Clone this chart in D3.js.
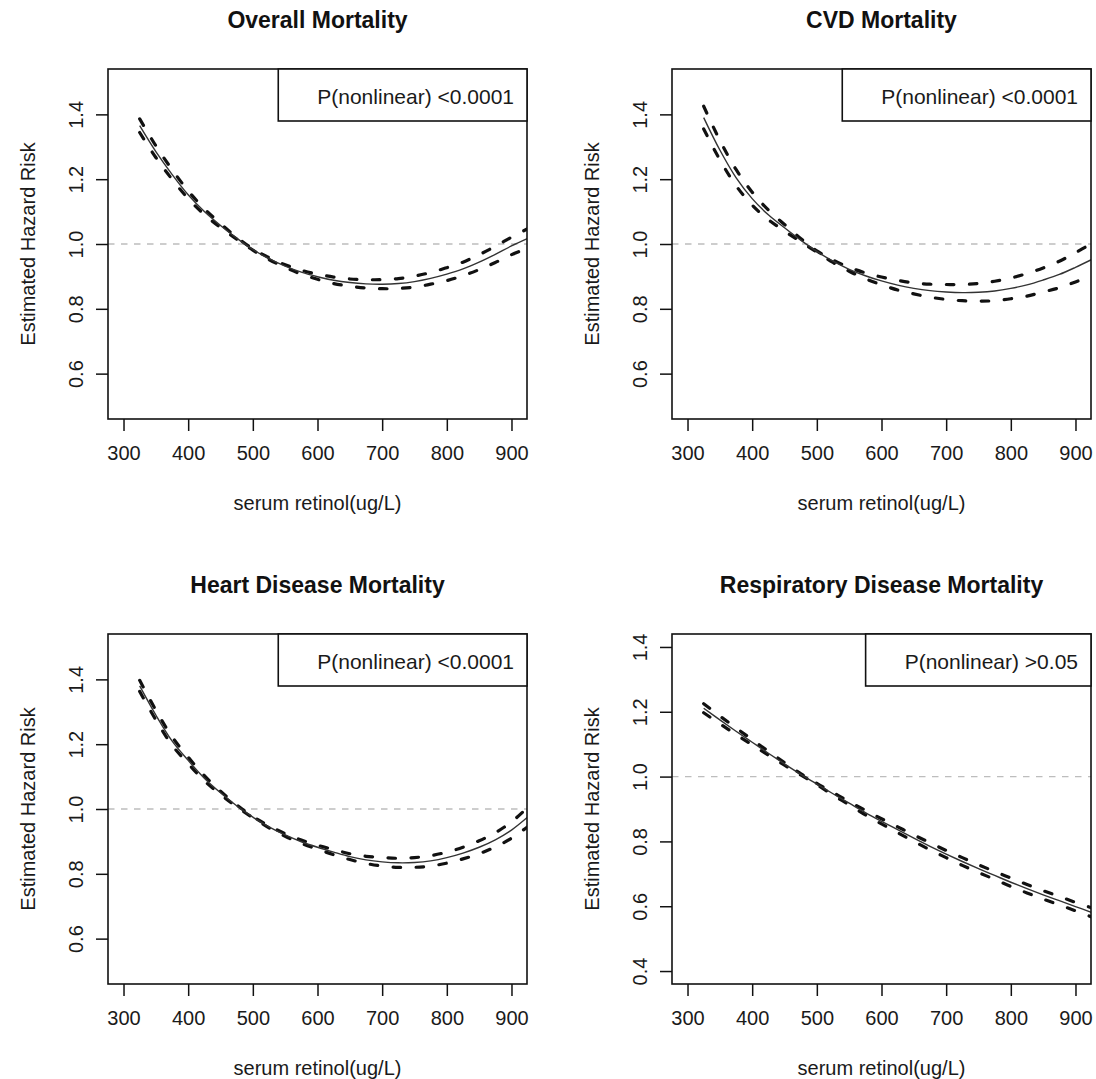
<!DOCTYPE html>
<html>
<head>
<meta charset="utf-8">
<script src="https://cdn.jsdelivr.net/npm/d3@7"></script>
<style>
  html, body { margin: 0; padding: 0; background: #fff; }
  svg { display: block; font-family: "Liberation Sans", Arial, Helvetica, sans-serif; }
</style>
</head>
<body>
<svg id="chart" width="1096" height="1079"></svg>
<script>
// ---------------- data ----------------
const retinol = [325, 350, 375, 400, 425, 450, 475, 500, 525, 550, 575, 600, 625, 650, 675, 700, 725, 750, 775, 800, 825, 850, 875, 900, 925];

const titles = ["Overall Mortality", "CVD Mortality", "Heart Disease Mortality", "Respiratory Disease Mortality"];
const pLabels = ["P(nonlinear) <0.0001", "P(nonlinear) <0.0001", "P(nonlinear) <0.0001", "P(nonlinear) >0.05"];

const overallEst   = [1.365,1.285,1.215,1.152,1.100,1.057,1.018,0.983,0.955,0.932,0.913,0.899,0.888,0.881,0.877,0.876,0.878,0.884,0.894,0.907,0.923,0.944,0.968,0.994,1.017];
const overallUpper = [1.386,1.303,1.230,1.164,1.109,1.063,1.021,0.985,0.958,0.936,0.919,0.907,0.898,0.892,0.890,0.890,0.893,0.901,0.912,0.927,0.944,0.967,0.993,1.021,1.047];
const overallLower = [1.344,1.267,1.200,1.140,1.091,1.051,1.015,0.981,0.952,0.928,0.907,0.891,0.878,0.870,0.864,0.862,0.863,0.867,0.876,0.887,0.902,0.921,0.943,0.967,0.987];

const cvdEst   = [1.390,1.290,1.205,1.140,1.090,1.050,1.012,0.977,0.947,0.922,0.902,0.886,0.873,0.863,0.856,0.852,0.850,0.851,0.855,0.863,0.874,0.889,0.906,0.928,0.952];
const cvdUpper = [1.425,1.320,1.230,1.160,1.105,1.060,1.017,0.979,0.951,0.928,0.911,0.898,0.888,0.880,0.876,0.875,0.875,0.878,0.885,0.895,0.909,0.926,0.947,0.973,1.002];
const cvdLower = [1.355,1.260,1.180,1.120,1.075,1.040,1.007,0.975,0.943,0.916,0.893,0.874,0.858,0.846,0.836,0.829,0.825,0.824,0.825,0.831,0.839,0.852,0.865,0.883,0.902];

const heartEst   = [1.380,1.290,1.210,1.150,1.095,1.050,1.010,0.975,0.945,0.920,0.899,0.882,0.867,0.853,0.843,0.837,0.834,0.835,0.840,0.850,0.864,0.882,0.905,0.935,0.975];
const heartUpper = [1.397,1.305,1.223,1.160,1.103,1.055,1.013,0.977,0.948,0.924,0.904,0.888,0.875,0.862,0.854,0.850,0.848,0.850,0.856,0.867,0.882,0.902,0.927,0.960,1.005];
const heartLower = [1.363,1.275,1.197,1.140,1.087,1.045,1.007,0.973,0.942,0.916,0.894,0.876,0.859,0.844,0.832,0.824,0.820,0.820,0.824,0.833,0.846,0.862,0.883,0.910,0.945];

const respEst   = [1.211,1.175,1.140,1.106,1.072,1.039,1.007,0.977,0.947,0.918,0.889,0.862,0.836,0.810,0.785,0.761,0.738,0.716,0.695,0.674,0.654,0.635,0.617,0.599,0.581];
const respUpper = [1.225,1.187,1.150,1.114,1.078,1.043,1.009,0.979,0.951,0.923,0.896,0.870,0.845,0.820,0.796,0.772,0.750,0.728,0.707,0.687,0.667,0.648,0.630,0.612,0.595];
const respLower = [1.197,1.163,1.130,1.098,1.066,1.035,1.005,0.975,0.943,0.913,0.882,0.854,0.827,0.800,0.774,0.750,0.726,0.704,0.683,0.661,0.641,0.622,0.604,0.586,0.567];

const xTicks = [300, 400, 500, 600, 700, 800, 900];
const yTicksA = [0.6, 0.8, 1.0, 1.2, 1.4];
const yTicksB = [0.4, 0.6, 0.8, 1.0, 1.2, 1.4];
const xLimits = [300, 900];
const yLimitsA = [0.5, 1.5];
const yLimitsB = [0.4, 1.4];

const xLabel = "serum retinol(ug/L)";
const yLabel = "Estimated Hazard Risk";

// ---------------- layout ----------------
const panels = [
  { left: 108, top: 69,  est: overallEst, up: overallUpper, lo: overallLower, yTicks: yTicksA, yLim: yLimitsA },
  { left: 672, top: 69,  est: cvdEst,     up: cvdUpper,     lo: cvdLower,     yTicks: yTicksA, yLim: yLimitsA },
  { left: 108, top: 634, est: heartEst,   up: heartUpper,   lo: heartLower,   yTicks: yTicksA, yLim: yLimitsA },
  { left: 672, top: 634, est: respEst,    up: respUpper,    lo: respLower,    yTicks: yTicksB, yLim: yLimitsB }
];
const W = 419, H = 350;

const svg = d3.select("#chart");

function extend(lim) {           // R-style 4% axis extension
  const d = (lim[1] - lim[0]) * 0.04;
  return [lim[0] - d, lim[1] + d];
}

panels.forEach((p, i) => {
  const g = svg.append("g").attr("transform", `translate(${p.left},${p.top})`);
  const x = d3.scaleLinear().domain(extend(xLimits)).range([0, W]);
  const y = d3.scaleLinear().domain(extend(p.yLim)).range([H, 0]);

  const clipId = "clip" + i;
  g.append("clipPath").attr("id", clipId)
    .append("rect").attr("x", 0).attr("y", 0).attr("width", W).attr("height", H);

  // reference line at 1
  g.append("line")
    .attr("x1", 0).attr("x2", W).attr("y1", y(1)).attr("y2", y(1))
    .attr("stroke", "#bdbdbd").attr("stroke-width", 1.4)
    .attr("stroke-dasharray", "6.5,6.5");

  const line = d3.line()
    .x((d, k) => x(retinol[k]))
    .y(d => y(d))
    .curve(d3.curveCatmullRom);

  const curves = g.append("g").attr("clip-path", `url(#${clipId})`);
  [p.up, p.lo].forEach(arr => {
    curves.append("path").attr("d", line(arr))
      .attr("fill", "none").attr("stroke", "#111")
      .attr("stroke-width", 3.2).attr("stroke-linecap", "round")
      .attr("stroke-dasharray", "7.5,15.5");
  });
  curves.append("path").attr("d", line(p.est))
    .attr("fill", "none").attr("stroke", "#333").attr("stroke-width", 1.4);

  // x axis
  const xa = g.append("g").attr("transform", `translate(0,${H})`)
    .call(d3.axisBottom(x).tickValues(xTicks).tickSize(12).tickPadding(10).tickSizeOuter(0));
  xa.select(".domain").remove();
  xa.selectAll(".tick line").attr("stroke", "#111").attr("stroke-width", 1.5);
  xa.selectAll(".tick text").attr("font-size", 20).attr("fill", "#1a1a1a")
    .attr("dy", null).attr("y", 41).attr("font-family", "Liberation Sans, Arial, sans-serif");

  // y axis
  const ya = g.append("g")
    .call(d3.axisLeft(y).tickValues(p.yTicks).tickSize(12).tickFormat(d3.format(".1f")).tickSizeOuter(0));
  ya.select(".domain").remove();
  ya.selectAll(".tick line").attr("stroke", "#111").attr("stroke-width", 1.5);
  ya.selectAll(".tick text")
    .attr("font-size", 20).attr("fill", "#1a1a1a").attr("font-family", "Liberation Sans, Arial, sans-serif")
    .attr("x", null).attr("dy", null).attr("text-anchor", "middle")
    .attr("transform", "translate(-25,0) rotate(-90)");

  // box
  g.append("rect").attr("x", 0).attr("y", 0).attr("width", W).attr("height", H)
    .attr("fill", "none").attr("stroke", "#111").attr("stroke-width", 1.6);

  // title
  g.append("text").attr("x", W / 2).attr("y", -41).attr("text-anchor", "middle")
    .attr("font-size", 23).attr("font-weight", "bold").attr("fill", "#111")
    .text(titles[i]);

  // axis titles
  g.append("text").attr("x", W / 2).attr("y", H + 91).attr("text-anchor", "middle")
    .attr("font-size", 20).attr("fill", "#1a1a1a").text(xLabel);
  g.append("text").attr("transform", `translate(-73,${H / 2}) rotate(-90)`)
    .attr("text-anchor", "middle").attr("font-size", 20).attr("fill", "#1a1a1a").text(yLabel);

  // legend
  const lg = g.append("g");
  const lt = lg.append("text").attr("x", W - 13).attr("y", 35).attr("text-anchor", "end")
    .attr("font-size", 21).attr("fill", "#1a1a1a").text(pLabels[i]);
  const tw = lt.node().getComputedTextLength();
  const boxLeft = W - 13 - tw - 39;
  lg.insert("rect", "text").attr("x", boxLeft).attr("y", 0)
    .attr("width", W - boxLeft).attr("height", 52)
    .attr("fill", "#fff").attr("stroke", "#111").attr("stroke-width", 1.6);
});
</script>
</body>
</html>
